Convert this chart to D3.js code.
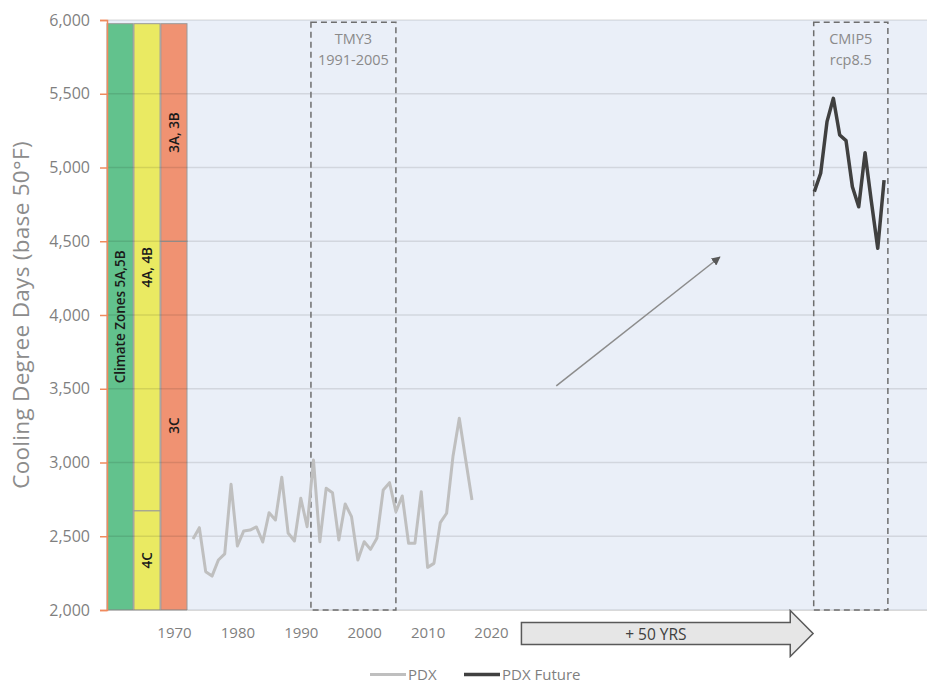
<!DOCTYPE html>
<html><head><meta charset="utf-8">
<script src="https://cdn.jsdelivr.net/npm/d3@7"></script>
<style>
body{margin:0;background:#fff;}
svg text{font-family:"Open Sans",sans-serif;}
</style></head>
<body><svg id="chart" width="927" height="684"></svg>
<script>
// ---- data ----
const pdxYears = d3.range(1973, 2018);
const pdxValues = [2481,2558,2260,2230,2339,2380,2852,2434,2536,2542,2563,2461,2660,2610,2900,2522,2468,
  2757,2565,3017,2463,2825,2795,2475,2719,2633,2339,
  2463,2411,2486,2814,2863,2667,2773,2452,2452,2802,2289,2316,2592,2656,3040,3300,3020,2746];
const futureYears = d3.range(2071, 2083);
const futureValues = [4836,4961,5311,5469,5220,5182,4870,4734,5100,4768,4452,4915];
const yTicks = [2000,2500,3000,3500,4000,4500,5000,5500,6000];
const xTicks = [1970,1980,1990,2000,2010,2020];
const zoneColumns = ["5","4","3"];
const zoneSegments = [
  {col:"5", lo:2000, hi:5975, label:"Climate Zones 5A,5B", color:"#62c28d"},
  {col:"4", lo:2000, hi:2673, label:"4C", color:"#eaea62"},
  {col:"4", lo:2673, hi:5975, label:"4A, 4B", color:"#eaea62"},
  {col:"3", lo:2000, hi:4500, label:"3C", color:"#f09272"},
  {col:"3", lo:4500, hi:5975, label:"3A, 3B", color:"#f09272"}
];
const periodBoxes = [
  {from:1991.6, to:2005.0, line1:"TMY3", line2:"1991-2005"},
  {from:2070.9, to:2082.6, line1:"CMIP5", line2:"rcp8.5"}
];
const trendArrow = {x1:2030.3, y1:3519, x2:2056.1, y2:4393};
const shiftArrow = {from:2024.8, bodyEnd:2067.2, tip:2070.8, label:"+ 50 YRS"};
const seriesNames = ["PDX","PDX Future"];

// ---- layout ----
const svg = d3.select("#chart");
const plotL = 107, plotR = 927, plotT = 20, plotB = 610;
const x = d3.scaleLinear().domain([1970, 2020]).range([174, 491]);
const y = d3.scaleLinear().domain([2000, 6000]).range([plotB, plotT]);
const zx = d3.scaleBand().domain(zoneColumns).range([107, 187]).paddingInner(0.03);

// background
svg.append("rect").attr("x", plotL).attr("y", plotT).attr("width", plotR-plotL).attr("height", plotB-plotT)
  .attr("fill", "#eaeff8");

// zone bars
svg.append("g").selectAll("rect").data(zoneSegments).join("rect")
  .attr("x", d => zx(d.col)).attr("width", zx.bandwidth())
  .attr("y", d => y(d.hi)).attr("height", d => y(d.lo) - y(d.hi))
  .attr("fill", d => d.color).attr("stroke", "#9a9a9a").attr("stroke-width", 1);

// gridlines
svg.append("g").selectAll("line").data(yTicks).join("line")
  .attr("x1", plotL).attr("x2", plotR).attr("y1", d => y(d)).attr("y2", d => y(d))
  .attr("stroke", "#000").attr("stroke-opacity", 0.1).attr("stroke-width", 1.5);

// zone labels
svg.append("g").selectAll("text").data(zoneSegments).join("text")
  .attr("transform", d => `translate(${zx(d.col)+zx.bandwidth()/2},${y((d.lo+d.hi)/2)}) rotate(-90)`)
  .attr("text-anchor", "middle").attr("dominant-baseline", "central")
  .attr("font-size", 13.5).attr("font-weight", 600).attr("fill", "#1a1a1a")
  .text(d => d.label);

// y axis
const yAxis = svg.append("g").attr("transform", `translate(${plotL},0)`)
  .call(d3.axisLeft(y).tickValues(yTicks).tickSize(7).tickPadding(10).tickFormat(d3.format(",")));
yAxis.select(".domain").attr("stroke", "#f08a5d").attr("stroke-width", 1.5);
yAxis.selectAll(".tick line").attr("stroke", "#f08a5d").attr("stroke-width", 1.5);
yAxis.selectAll("text").attr("font-size", 16).attr("fill", "#7f7f7f").attr("font-family", "Open Sans");

// x axis
const xAxis = svg.append("g").attr("transform", `translate(0,${plotB})`)
  .call(d3.axisBottom(x).tickValues(xTicks).tickSize(0).tickPadding(17).tickFormat(d3.format("d")));
xAxis.select(".domain").remove();
xAxis.selectAll("text").attr("font-size", 15).attr("fill", "#7f7f7f").attr("font-family", "Open Sans");
svg.append("line").attr("x1", 187).attr("x2", plotR).attr("y1", plotB+0.5).attr("y2", plotB+0.5)
  .attr("stroke", "#d9d9d9").attr("stroke-width", 1);

// y title
svg.append("text").attr("transform", `translate(20,${(plotT+plotB)/2}) rotate(-90)`)
  .attr("text-anchor", "middle").attr("dominant-baseline", "central")
  .attr("font-size", 22.5).attr("letter-spacing", 0.3).attr("fill", "#8c8c8c").text("Cooling Degree Days (base 50°F)");

// period boxes
const boxes = svg.append("g").selectAll("g").data(periodBoxes).join("g");
boxes.append("rect")
  .attr("x", d => x(d.from)).attr("width", d => x(d.to) - x(d.from))
  .attr("y", y(5985)).attr("height", y(2000) - y(5985))
  .attr("fill", "none").attr("stroke", "#6e6e6e").attr("stroke-width", 1.5).attr("stroke-dasharray", "6,4");
boxes.append("text").attr("x", d => (x(d.from)+x(d.to))/2).attr("y", 44)
  .attr("text-anchor", "middle").attr("font-size", 14.5).attr("fill", "#8a8a8a").text(d => d.line1);
boxes.append("text").attr("x", d => (x(d.from)+x(d.to))/2).attr("y", 65)
  .attr("text-anchor", "middle").attr("font-size", 14.5).attr("fill", "#8a8a8a").text(d => d.line2);

// trend arrow
svg.append("defs").append("marker").attr("id", "ah").attr("viewBox", "0 0 10 10")
  .attr("refX", 9).attr("refY", 5).attr("markerWidth", 9).attr("markerHeight", 9)
  .attr("markerUnits", "userSpaceOnUse").attr("orient", "auto")
  .append("path").attr("d", "M0,0 L10,5 L0,10 Z").attr("fill", "#595959");
svg.append("line")
  .attr("x1", x(trendArrow.x1)).attr("y1", y(trendArrow.y1))
  .attr("x2", x(trendArrow.x2)).attr("y2", y(trendArrow.y2))
  .attr("stroke", "#8c8c8c").attr("stroke-width", 1.5).attr("marker-end", "url(#ah)");

// block arrow "+50 YRS"
const ax0 = x(shiftArrow.from), ax1 = x(shiftArrow.bodyEnd), ax2 = x(shiftArrow.tip);
const ayc = 633.5, bh = 11, hh = 23;
svg.append("path")
  .attr("d", `M${ax0},${ayc-bh} L${ax1},${ayc-bh} L${ax1},${ayc-hh} L${ax2},${ayc} L${ax1},${ayc+hh} L${ax1},${ayc+bh} L${ax0},${ayc+bh} Z`)
  .attr("fill", "#e6e6e6").attr("stroke", "#595959").attr("stroke-width", 1.5);
svg.append("text").attr("x", (ax0+ax1)/2).attr("y", ayc).attr("text-anchor", "middle")
  .attr("dominant-baseline", "central").attr("font-size", 15.5).attr("fill", "#404040").text(shiftArrow.label);

// series lines
const line = d3.line().x(d => x(d[0])).y(d => y(d[1]));
svg.append("path").datum(d3.zip(pdxYears, pdxValues)).attr("d", line)
  .attr("fill", "none").attr("stroke", "#bfbfbf").attr("stroke-width", 3).attr("stroke-linejoin", "round");
svg.append("path").datum(d3.zip(futureYears, futureValues)).attr("d", line)
  .attr("fill", "none").attr("stroke", "#404040").attr("stroke-width", 3.5).attr("stroke-linejoin", "round");

// legend
const legend = svg.append("g");
const legItems = [
  {name:seriesNames[0], x:370, color:"#bfbfbf", w:3},
  {name:seriesNames[1], x:464, color:"#404040", w:3.5}
];
legItems.forEach(it => {
  legend.append("line").attr("x1", it.x).attr("x2", it.x+36).attr("y1", 674.5).attr("y2", 674.5)
    .attr("stroke", it.color).attr("stroke-width", it.w);
  legend.append("text").attr("x", it.x+38).attr("y", 674).attr("dominant-baseline", "central")
    .attr("font-size", 15).attr("fill", "#7f7f7f").text(it.name);
});
</script></body></html>
